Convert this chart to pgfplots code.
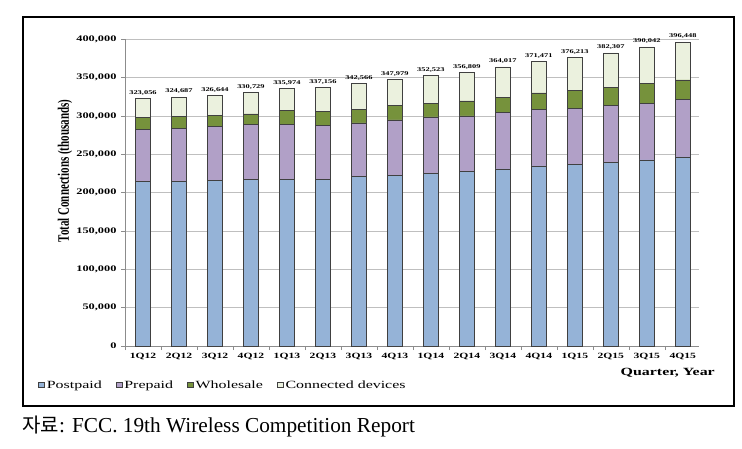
\documentclass[border=0pt]{standalone}
\usepackage{pgfplots}
\pgfplotsset{compat=1.18}
\usepackage{pgfplotstable}
\usepackage{graphicx}
\usepackage{fontspec}
\setmainfont{Liberation Serif}
\newfontfamily\chartfont{Liberation Serif}[FakeStretch=1.45]
\newfontfamily\cjk{Noto Sans CJK KR}
\definecolor{cpost}{HTML}{95B3D7}
\definecolor{cpre}{HTML}{B1A0C7}
\definecolor{cwh}{HTML}{76923C}
\definecolor{ccd}{HTML}{EBF1DE}
\pgfplotstableread{
x pp pre wh cd total
0 214300 68300 15200 25256 323056
1 214800 69500 14800 25587 324687
2 215600 70400 14400 26244 326644
3 217800 70900 13900 28129 330729
4 217400 72100 17400 29074 335974
5 217800 69600 18200 31556 337156
6 220900 70000 18200 33466 342566
7 223000 71800 19100 34079 347979
8 225200 73500 17800 36023 352523
9 227400 72600 19600 37209 356809
10 231000 73300 20100 39617 364017
11 234800 73900 21300 41471 371471
12 236500 73900 23100 42713 376213
13 239600 74300 23500 44907 382307
14 242600 74300 25200 47942 390042
15 246500 74800 25700 49448 396448
}\datatable
\begin{document}
\begin{tikzpicture}[x=1pt,y=1pt]
\useasboundingbox (0,0) rectangle (742,448);
\fill[white] (0,0) rectangle (742,448);
\draw[black, line width=1.2pt] (23,42) rectangle (734,431);
\begin{axis}[
  at={(125pt,102pt)}, anchor=south west,
  scale only axis, width=574pt, height=306.7pt,
  ymin=0, ymax=400000, xmin=-0.5, xmax=15.45,
  ybar stacked, bar width=15pt,
  ytick={0,50000,...,400000},
  ymajorgrids, grid style={black!25, line width=0.6pt},
  axis x line*=bottom, axis y line*=left,
  axis line style={-, black!45, line width=0.7pt},
  tick align=outside,
  major tick length=4pt, minor tick length=4pt,
  xtick={0,...,15},
  xticklabels={1Q12,2Q12,3Q12,4Q12,1Q13,2Q13,3Q13,4Q13,1Q14,2Q14,3Q14,4Q14,1Q15,2Q15,3Q15,4Q15},
  minor xtick={-0.5,0.5,...,15.5},
  major x tick style={draw=none},
  minor x tick style={black!45, line width=0.6pt},
  y tick style={black!45, line width=0.6pt},
  xticklabel style={font=\chartfont\bfseries\fontsize{8}{9}\selectfont, yshift=0pt},
  yticklabel style={font=\chartfont\bfseries\fontsize{8.5}{9}\selectfont, xshift=-1pt},
  scaled y ticks=false,
  /pgf/number format/.cd, fixed, 1000 sep={,}, assume math mode=true,
  /pgfplots/.cd,
  legend columns=4,
  legend style={at={(0,0)}, anchor=west, xshift=-87pt, yshift=-39pt, draw=none, fill=none,
    font=\chartfont\fontsize{11}{12}\selectfont, inner sep=0pt,
    /tikz/every even column/.append style={column sep=12pt}},
  legend image code/.code={\draw[#1, line width=0.6pt] (0pt,-2.5pt) rectangle (6pt,2.5pt);},
  every axis plot/.append style={draw=black!75, line width=0.7pt},
]
\addplot[fill=cpost] table[x=x, y=pp] {\datatable};
\addplot[fill=cpre] table[x=x, y=pre] {\datatable};
\addplot[fill=cwh] table[x=x, y=wh] {\datatable};
\addplot[fill=ccd] table[x=x, y=cd] {\datatable};
\legend{Postpaid,Prepaid,Wholesale,Connected devices}
\end{axis}
\begin{axis}[
  at={(125pt,102pt)}, anchor=south west,
  scale only axis, width=574pt, height=306.7pt,
  ymin=0, ymax=400000, xmin=-0.5, xmax=15.45,
  hide axis, clip=false,
]
\addplot[only marks, mark=none, point meta=explicit,
  nodes near coords={\pgfmathprintnumber[fixed,precision=0,1000 sep={,},assume math mode=true]{\pgfplotspointmeta}},
  every node near coord/.append style={font=\chartfont\bfseries\fontsize{5.8}{6}\selectfont, anchor=south, yshift=3pt, text=black, inner sep=0pt}]
  table[x=x, y=total, meta=total] {\datatable};
\end{axis}
\node[rotate=90] at (65,277) {\scalebox{1}[1.45]{\bfseries\fontsize{11}{12}\selectfont Total Connections (thousands)}};
\node[anchor=east, inner sep=0] at (715,75) {\chartfont\bfseries\fontsize{11}{12}\selectfont Quarter, Year};
\node[anchor=base west, inner sep=0] at (22,16) {\fontsize{21.3}{24}\selectfont{\cjk\fontsize{20}{24}\selectfont 자료}: FCC. 19th Wireless Competition Report};
\end{tikzpicture}
\end{document}
